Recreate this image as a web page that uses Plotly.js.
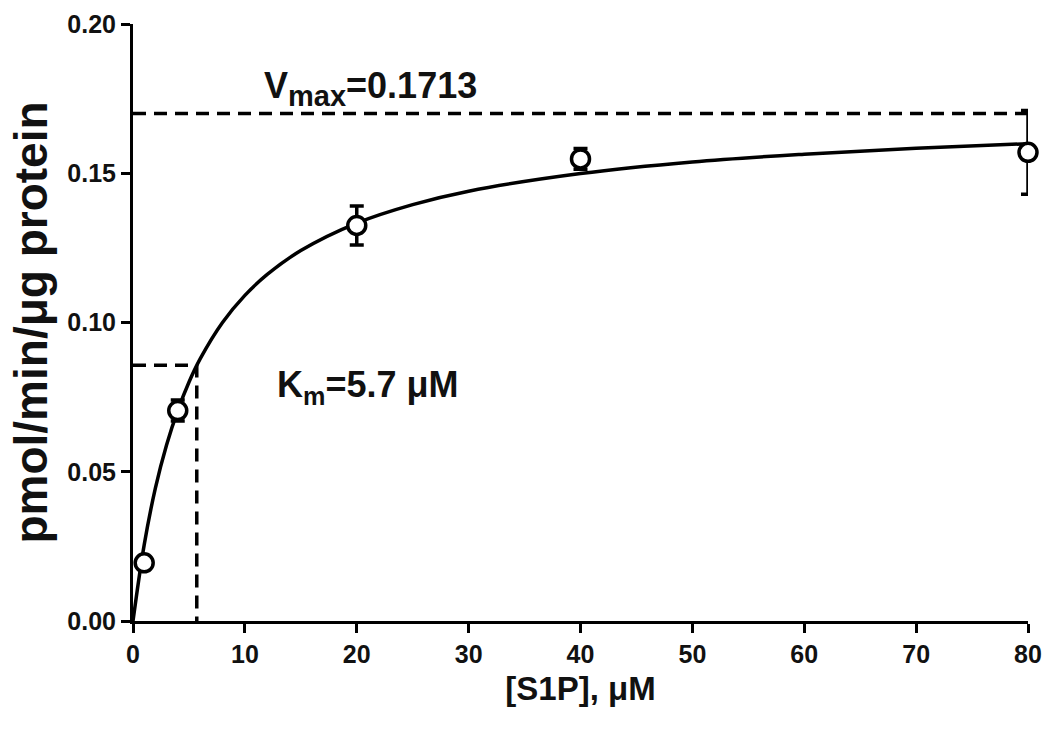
<!DOCTYPE html>
<html>
<head>
<meta charset="utf-8">
<script src="https://cdn.plot.ly/plotly-3.0.1.min.js"></script>
<style>
  html, body { margin: 0; padding: 0; background: white; }
  #chart { width: 1050px; height: 729px; }
</style>
</head>
<body>
<div id="chart"></div>
<script>
// measured points (S1P concentration, uM) and their SEM
var s1pConc = [1, 4, 20, 40, 80];
var activity = [0.0195, 0.0705, 0.1325, 0.1548, 0.1570];
var activityErr = [0.0, 0.0035, 0.0065, 0.0035, 0.0140];

// fitted curve
var fitX = [0, 1, 2, 3, 4, 5, 6, 8, 10, 12, 15, 20, 25, 30, 40, 50, 60, 70, 80];
var fitY = [0, 0.0255, 0.0445, 0.0590, 0.0705, 0.0800, 0.0878, 0.1000, 0.1091, 0.1161,
            0.1241, 0.1333, 0.1395, 0.1440, 0.1499, 0.1538, 0.1564, 0.1584, 0.1599];

// reference lines
var vmaxLineX = [0, 80];
var vmaxLineY = [0.17, 0.17];
var kmLineX = [0, 5.7, 5.7];
var kmLineY = [0.0857, 0.0857, 0];

var fnt = 'Liberation Sans, Arial, sans-serif';

var fit = {
  x: fitX, y: fitY,
  type: 'scatter', mode: 'lines',
  line: { color: 'black', width: 3.5, shape: 'spline' },
  hoverinfo: 'skip'
};

var vmaxLine = {
  x: vmaxLineX, y: vmaxLineY,
  type: 'scatter', mode: 'lines',
  line: { color: 'black', width: 3.5, dash: '13px,8px' },
  cliponaxis: false
};

var kmLine = {
  x: kmLineX, y: kmLineY,
  type: 'scatter', mode: 'lines',
  line: { color: 'black', width: 3.5, dash: '13px,8px' }
};

var pts = {
  x: s1pConc, y: activity,
  type: 'scatter', mode: 'markers',
  marker: { symbol: 'circle', size: 18, color: 'white', line: { color: 'black', width: 3.5 } },
  error_y: { type: 'data', array: activityErr, visible: true, color: 'black', thickness: 3.5, width: 7 },
  cliponaxis: false
};

var layout = {
  width: 1050, height: 729,
  margin: { l: 133, r: 22, t: 24, b: 108 },
  paper_bgcolor: 'white',
  plot_bgcolor: 'white',
  showlegend: false,
  font: { family: fnt, color: '#111', size: 20 },
  xaxis: {
    range: [0, 80],
    tickvals: [0, 10, 20, 30, 40, 50, 60, 70, 80],
    ticks: 'outside', ticklen: 9, tickwidth: 3, tickcolor: 'black',
    showline: true, linewidth: 3, linecolor: 'black',
    showgrid: false, zeroline: false,
    tickfont: { family: fnt, size: 25, weight: 'bold' },
    title: { text: '[S1P], μM', font: { family: fnt, size: 33, weight: 'bold' }, standoff: 10 }
  },
  yaxis: {
    range: [0, 0.2],
    tickvals: [0, 0.05, 0.1, 0.15, 0.2],
    tickformat: '.2f',
    ticks: 'outside', ticklen: 9, tickwidth: 3, tickcolor: 'black',
    showline: true, linewidth: 3, linecolor: 'black',
    showgrid: false, zeroline: false,
    tickfont: { family: fnt, size: 25, weight: 'bold' },
    title: { text: 'pmol/min/μg protein', font: { family: fnt, size: 46, weight: 'bold' }, standoff: 6 }
  },
  annotations: [
    {
      x: 21.2, y: 0.1785, xref: 'x', yref: 'y',
      text: 'V<sub><span style="font-size:29px">max</span></sub>=0.1713', showarrow: false,
      font: { family: fnt, size: 36, weight: 'bold', color: '#111' }
    },
    {
      x: 21.0, y: 0.0785, xref: 'x', yref: 'y',
      text: 'K<sub>m</sub>=5.7 μM', showarrow: false,
      font: { family: fnt, size: 36, weight: 'bold', color: '#111' }
    }
  ]
};

Plotly.newPlot('chart', [vmaxLine, kmLine, fit, pts], layout, { displayModeBar: false });
</script>
</body>
</html>
